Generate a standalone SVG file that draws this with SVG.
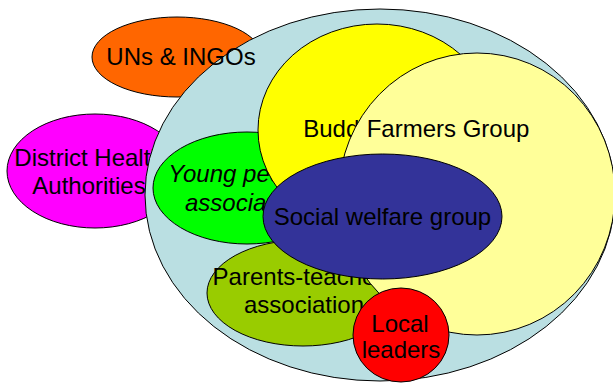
<svg xmlns="http://www.w3.org/2000/svg" width="613" height="384" viewBox="0 0 613 384">
<style>
.n{stroke:#000;stroke-width:1}
text{font-family:"Liberation Sans",Arial,sans-serif;font-size:24px;fill:#000;text-anchor:middle}
.i{font-style:italic}
</style>
<rect width="613" height="384" fill="#fff"/>
<g id="uns-ingos"><ellipse class="n" cx="177" cy="57" rx="85" ry="40" fill="#FF6600"/></g>
<g id="district-health"><ellipse class="n" cx="95" cy="171" rx="88" ry="57" fill="#FF00FF"/>
<text x="89" y="166">District Health</text><text x="89" y="194">Authorities</text></g>
<g id="community"><ellipse class="n" cx="380" cy="195" rx="235" ry="186" fill="#BADFE2"/></g>
<g id="young-people"><ellipse class="n" cx="247" cy="188" rx="94" ry="56" fill="#00FF00"/>
<text class="i" x="250" y="182">Young people's</text><text class="i" x="245" y="211">association</text></g>
<g id="buddhist"><ellipse class="n" cx="377" cy="130" rx="119" ry="106" fill="#FFFF00"/>
<text x="384" y="137">Buddhist group</text></g>
<g id="parents-teachers"><ellipse class="n" cx="303" cy="293" rx="96" ry="53" fill="#99CC00"/>
<text x="304" y="285">Parents-teachers</text><text x="304" y="313">association</text></g>
<g id="farmers"><ellipse class="n" cx="477" cy="194" rx="138" ry="141" fill="#FFFF99"/>
<text x="448" y="137">Farmers Group</text></g>
<g id="social-welfare"><ellipse class="n" cx="382.5" cy="216.5" rx="119.5" ry="62.5" fill="#333399"/>
<text x="382.5" y="225">Social welfare group</text></g>
<g id="local-leaders"><ellipse class="n" cx="401" cy="335" rx="48" ry="47" fill="#FF0000"/>
<text x="400" y="332">Local</text><text x="401" y="358">leaders</text></g>
<g id="uns-ingos-label"><text x="181" y="65">UNs &amp; INGOs</text></g>
<g id="connectors"/>
</svg>
